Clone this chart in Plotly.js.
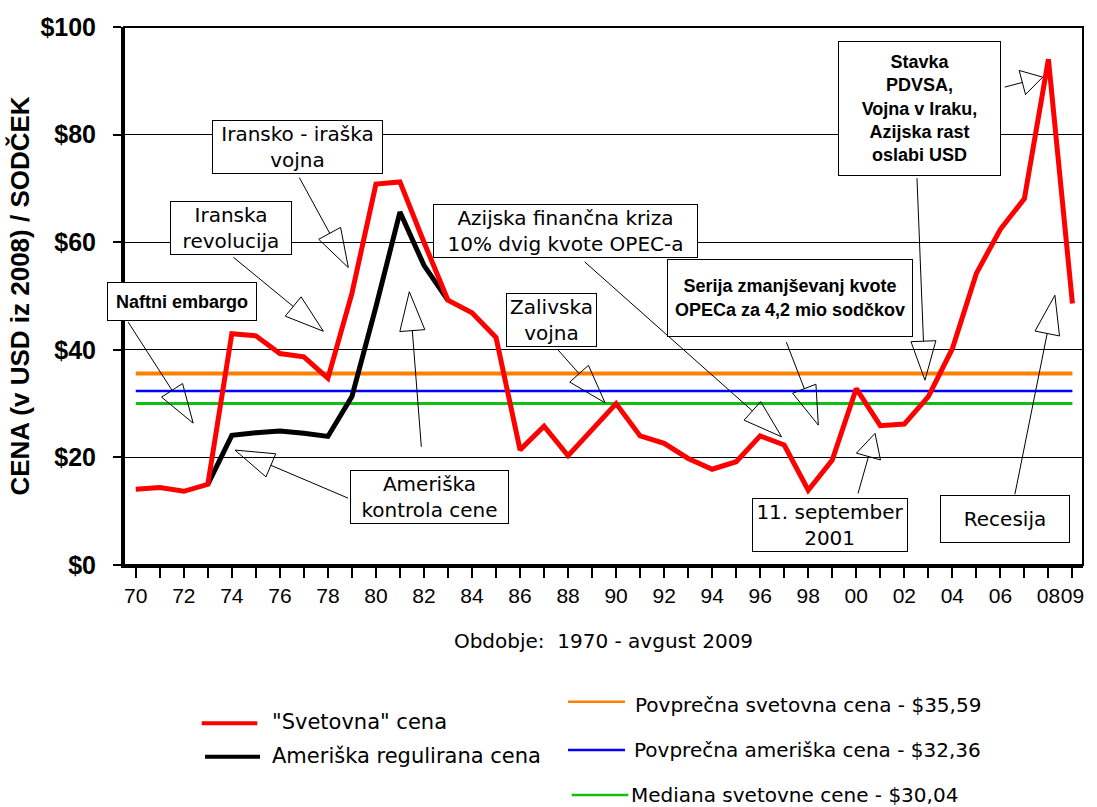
<!DOCTYPE html>
<html><head><meta charset="utf-8">
<script src="https://cdn.plot.ly/plotly-3.0.1.min.js"></script>
<style>html,body{margin:0;padding:0;background:#fff}</style>
</head><body>
<div id="chart" style="width:1097px;height:807px"></div>
<script>
// ---- data ----
const years = [1970,1971,1972,1973,1974,1975,1976,1977,1978,1979,1980,1981,1982,1983,1984,1985,1986,1987,1988,1989,
               1990,1991,1992,1993,1994,1995,1996,1997,1998,1999,2000,2001,2002,2003,2004,2005,2006,2007,2008,2009];
const worldPrice = [14.1,14.4,13.7,15.0,43.0,42.6,39.3,38.7,34.7,50.5,70.8,71.2,60.0,49.2,46.9,42.3,21.4,25.8,20.3,25.1,
                    30.0,24.0,22.6,19.8,17.8,19.2,24.0,22.3,13.9,19.5,32.8,25.9,26.2,31.3,40.2,54.2,62.4,68.1,94.0,48.6];
const usYears = [1973,1974,1975,1976,1977,1978,1979,1980,1981,1982,1983];
const usPrice = [15.0,24.1,24.6,24.9,24.5,23.9,31.3,48.0,65.6,55.7,49.2];
const avgWorld = 35.59;
const avgUS = 32.36;
const medianWorld = 30.04;
const lineSpan = [1970, 2009];

const seriesNames = ['"Svetovna" cena', 'Ameriška regulirana cena',
  'Povprečna svetovna cena - $35,59', 'Povprečna ameriška cena - $32,36', 'Mediana svetovne cene - $30,04'];

const xTickVals = years;
const xTickText = ['70','','72','','74','','76','','78','','80','','82','','84','','86','','88','',
                   '90','','92','','94','','96','','98','','00','','02','','04','','06','','08','09'];
const yTickVals = [0,20,40,60,80,100];
const yTickText = ['$0','$20','$40','$60','$80','$100'];

// callout boxes: text, centre (year, value)
const boxTexts = ['Naftni embargo','Iranska<br>revolucija','Iransko - iraška<br>vojna','Ameriška<br>kontrola cene',
  'Azijska finančna kriza<br>10% dvig kvote OPEC-a','Zalivska<br>vojna',
  'Serija zmanjševanj kvote<br>OPECa za 4,2 mio sodčkov',
  'Stavka<br>PDVSA,<br>Vojna v Iraku,<br>Azijska rast<br>oslabi USD',
  '11. september<br>2001','Recesija'];
const boxX = [1971.93,1973.96,1976.73,1982.21,1987.89,1987.32,1997.26,2002.63,1998.89,2006.21];
const boxY = [49.03,62.58,77.77,12.63,62.15,45.50,49.58,84.87,7.45,8.54];
const boxStyle = ['small','large','large','large','large','large','small','small','large','large'];

// callout arrows: tip (year, value), tail offset (px)
const tipX = [1972.39,1977.81,1978.85,1974.13,1981.39,1996.89,1989.54,1998.42,2002.86,2007.76,2000.78,2008.27];
const tipY = [26.37,43.45,55.28,21.36,50.79,23.83,30.14,26.0,34.35,90.68,24.46,50.14];
const tailDX = [-65,-90,-49,113,12,-197,-48,-32,-8,-38,-17,-40];
const tailDY = [-101,-74,-90,48,155,-175,-54,-83,-202,10,60,199];
const headLen = [39,39,39,39,39,39,39,39,39,21,24,39];

// ---- traces ----
const traces = [
  {x: lineSpan, y: [avgWorld, avgWorld], mode:'lines', line:{color:'#FF8000', width:4}, name: seriesNames[2]},
  {x: lineSpan, y: [avgUS, avgUS], mode:'lines', line:{color:'#0000FF', width:2.5}, name: seriesNames[3]},
  {x: lineSpan, y: [medianWorld, medianWorld], mode:'lines', line:{color:'#10C010', width:3}, name: seriesNames[4]},
  {x: usYears, y: usPrice, mode:'lines', line:{color:'#000000', width:5}, name: seriesNames[1]},
  {x: years, y: worldPrice, mode:'lines', line:{color:'#FF0000', width:5}, name: seriesNames[0]}
];

// ---- annotations ----
const annotations = [];
const L = 124, W = 959, T = 27, H = 538;
function px2paperX(px){ return (px - L) / W; }
function px2paperY(py){ return (565 - py) / H; }

const boxW = [146,118,167,155,261,87,242,159,152,126];
const boxH = [35,null,null,null,null,null,74,131,null,44];
for (let i = 0; i < boxTexts.length; i++) {
  const small = boxStyle[i] === 'small';
  const a = {
    x: boxX[i], y: boxY[i], xref:'x', yref:'y', showarrow:false,
    text: boxTexts[i], align:'center', width: boxW[i],
    font: small ? {family:'Liberation Sans, Arial, sans-serif', size:18, weight:'bold', color:'#000'}
                : {family:'DejaVu Sans, Verdana, sans-serif', size:20, color:'#000'},
    bgcolor:'#ffffff', bordercolor:'#000000', borderwidth:1, borderpad:1
  };
  if (boxH[i]) a.height = boxH[i];
  annotations.push(a);
}

const shapes = [];
// plot frame
shapes.push({type:'rect', xref:'paper', yref:'paper', x0:0, x1:1, y0:0, y1:1, line:{color:'#000', width:2}, layer:'above'});

// arrows: line from tail to triangle base, hollow triangle pointing to tip
for (let i = 0; i < tipX.length; i++) {
  const dx = -tailDX[i], dy = -tailDY[i];
  const len = Math.hypot(dx, dy);
  const ux = dx / len, uy = dy / len;
  const hl = headLen[i], hw = 12.5;
  const bmx = -ux * hl, bmy = -uy * hl;
  const b1x = bmx - uy * hw, b1y = bmy + ux * hw;
  const b2x = bmx + uy * hw, b2y = bmy - ux * hw;
  const f = v => v.toFixed(1);
  const path = `M${f(tailDX[i])},${f(-tailDY[i])} L${f(bmx)},${f(-bmy)} M${f(b1x)},${f(-b1y)} L0,0 L${f(b2x)},${f(-b2y)} Z`;
  shapes.push({type:'path', xref:'x', yref:'y', xsizemode:'pixel', ysizemode:'pixel',
               xanchor: tipX[i], yanchor: tipY[i], path: path,
               line:{color:'#000', width:1}, fillcolor:'rgba(0,0,0,0)', layer:'above'});
}

// legend samples
const legColors = ['#FF0000','#000000','#FF8000','#0000FF','#10C010'];
const legWidths = [4,4,2.5,2.5,2.5];
const legX0 = [201.7,205,568,568,571.7];
const legX1 = [257.3,260,625,625,628.3];
const legLineY = [723.3,756.7,701.7,750,795];
const legTextX = [270,270,633,632,629];
const legTextY = [721.7,756,705,750,795];
const legSize = [21,21,20,20,20];
for (let i = 0; i < 5; i++) {
  shapes.push({type:'line', xref:'paper', yref:'paper',
    x0: px2paperX(legX0[i]), x1: px2paperX(legX1[i]), y0: px2paperY(legLineY[i]), y1: px2paperY(legLineY[i]),
    line:{color:legColors[i], width:legWidths[i]}});
  annotations.push({xref:'paper', yref:'paper', x: px2paperX(legTextX[i]), y: px2paperY(legTextY[i]),
    xanchor:'left', yanchor:'middle', showarrow:false, text: seriesNames[i],
    font:{family:'DejaVu Sans, Verdana, sans-serif', size:legSize[i], color:'#000'}});
}

const layout = {
  width:1097, height:807,
  margin:{l:L, r:1097-1083, t:T, b:807-565},
  paper_bgcolor:'#fff', plot_bgcolor:'#fff',
  showlegend:false,
  xaxis:{
    range:[1969.51, 2009.44], tickmode:'array', tickvals:xTickVals, ticktext:xTickText, tickangle:0,
    ticks:'outside', ticklen:10, tickwidth:2, tickcolor:'#000',
    showline:true, linecolor:'#000', linewidth:3, showgrid:false, zeroline:false,
    tickfont:{family:'Liberation Sans, Arial, sans-serif', size:21, color:'#000'},
    title:{text:'Obdobje:\u00a0\u00a01970 - avgust 2009', standoff:28,
           font:{family:'DejaVu Sans, Verdana, sans-serif', size:20, color:'#000'}},
    fixedrange:true
  },
  yaxis:{
    range:[0,100], tickmode:'array', tickvals:yTickVals, ticktext:yTickText,
    ticks:'outside', ticklen:8, tickwidth:2, tickcolor:'#000', ticklabelstandoff:12,
    showline:true, linecolor:'#000', linewidth:3, showgrid:true, gridcolor:'#000', gridwidth:1, zeroline:false,
    tickfont:{family:'Liberation Sans, Arial, sans-serif', size:25, weight:'bold', color:'#000'},
    title:{text:'CENA (v USD iz 2008) / SODČEK', standoff:4,
           font:{family:'Liberation Sans, Arial, sans-serif', size:26, weight:'bold', color:'#000'}},
    fixedrange:true
  },
  annotations: annotations,
  shapes: shapes
};

Plotly.newPlot('chart', traces, layout, {displayModeBar:false, staticPlot:true});
</script>
</body></html>
